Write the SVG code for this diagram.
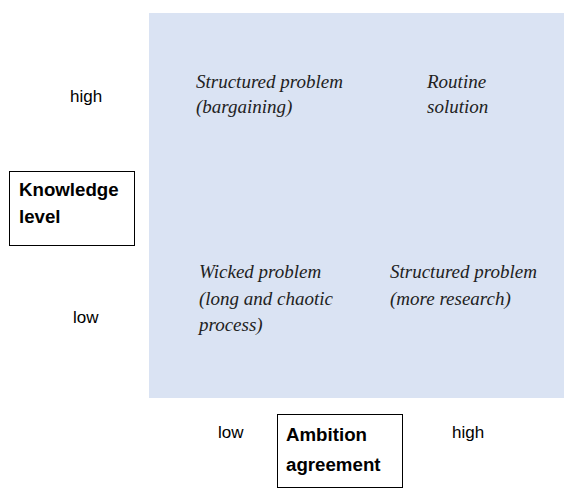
<svg xmlns="http://www.w3.org/2000/svg" width="574" height="499" viewBox="0 0 574 499">
<style>
.axis{font-family:"Liberation Sans",Arial,sans-serif;font-size:17px;fill:#000}
.title{font-family:"Liberation Sans",Arial,sans-serif;font-size:18.7px;font-weight:bold;fill:#000}
.cell{font-family:"Liberation Serif","Times New Roman",serif;font-size:19px;font-style:italic;fill:#222}
.box{fill:#fff;stroke:#000;stroke-width:1}
</style>
<rect width="574" height="499" fill="#fff"/>
<g id="matrix">
<rect x="149" y="13" width="415" height="385" fill="#dae3f3"/>
</g>
<g id="q-top-left">
<text class="cell" x="196" y="88">Structured problem</text>
<text class="cell" x="196" y="113">(bargaining)</text>
</g>
<g id="q-top-right">
<text class="cell" x="427" y="88">Routine</text>
<text class="cell" x="427" y="113">solution</text>
</g>
<g id="q-bottom-left">
<text class="cell" x="199" y="278">Wicked problem</text>
<text class="cell" x="199" y="305">(long and chaotic</text>
<text class="cell" x="199" y="331">process)</text>
</g>
<g id="q-bottom-right">
<text class="cell" x="390" y="278">Structured problem</text>
<text class="cell" x="390" y="305">(more research)</text>
</g>
<g id="knowledge-level">
<rect class="box" x="9.5" y="171.5" width="125" height="74"/>
<text class="title" x="19" y="196">Knowledge</text>
<text class="title" x="19" y="223">level</text>
</g>
<g id="ambition-agreement">
<rect class="box" x="277.5" y="414.5" width="125" height="73"/>
<text class="title" x="286" y="441">Ambition</text>
<text class="title" x="286" y="471">agreement</text>
</g>
<g id="axis-labels">
<text class="axis" x="70" y="102">high</text>
<text class="axis" x="73" y="323">low</text>
<text class="axis" x="218" y="438">low</text>
<text class="axis" x="452" y="438">high</text>
</g>
<g id="connectors"></g>
</svg>
